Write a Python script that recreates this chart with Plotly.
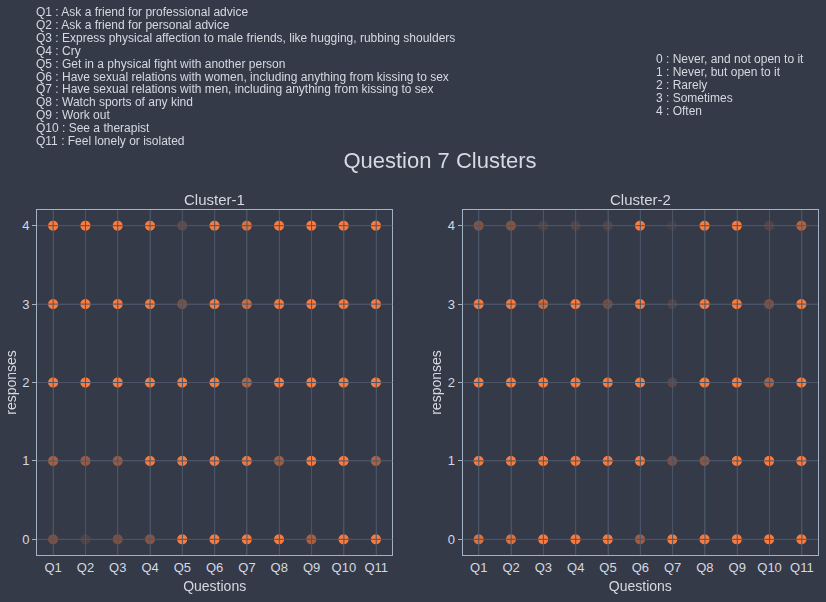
import plotly.graph_objects as go
from plotly.subplots import make_subplots

questions = ["Q1", "Q2", "Q3", "Q4", "Q5", "Q6", "Q7", "Q8", "Q9", "Q10", "Q11"]
responses = [0, 1, 2, 3, 4]

question_text = [
    "Q1 : Ask a friend for professional advice",
    "Q2 : Ask a friend for personal advice",
    "Q3 : Express physical affection to male friends, like hugging, rubbing shoulders",
    "Q4 : Cry",
    "Q5 : Get in a physical fight with another person",
    "Q6 : Have sexual relations with women, including anything from kissing to sex",
    "Q7 : Have sexual relations with men, including anything from kissing to sex",
    "Q8 : Watch sports of any kind",
    "Q9 : Work out",
    "Q10 : See a therapist",
    "Q11 : Feel lonely or isolated",
]
response_text = [
    "0 : Never, and not open to it",
    "1 : Never, but open to it",
    "2 : Rarely",
    "3 : Sometimes",
    "4 : Often",
]

# marker intensity (opacity) per response level (rows 0..4) and question
cluster1 = [
    [0.35, 0.14, 0.35, 0.42, 1.0, 1.0, 1.0, 1.0, 0.6, 1.0, 1.0],   # 0
    [0.6, 0.5, 0.5, 1.0, 1.0, 1.0, 0.95, 0.55, 1.0, 1.0, 0.62],    # 1
    [1.0, 1.0, 1.0, 1.0, 1.0, 1.0, 0.65, 1.0, 1.0, 1.0, 1.0],      # 2
    [1.0, 1.0, 1.0, 1.0, 0.35, 1.0, 0.8, 1.0, 1.0, 1.0, 1.0],      # 3
    [1.0, 1.0, 1.0, 1.0, 0.22, 1.0, 0.85, 1.0, 1.0, 1.0, 1.0],     # 4
]
cluster2 = [
    [0.85, 0.85, 1.0, 1.0, 1.0, 0.55, 1.0, 1.0, 1.0, 1.0, 1.0],    # 0
    [1.0, 1.0, 1.0, 1.0, 1.0, 1.0, 0.35, 0.45, 1.0, 1.0, 1.0],     # 1
    [1.0, 1.0, 1.0, 1.0, 1.0, 1.0, 0.2, 1.0, 1.0, 0.6, 1.0],       # 2
    [1.0, 1.0, 0.75, 1.0, 0.3, 1.0, 0.16, 1.0, 1.0, 0.35, 1.0],    # 3
    [0.4, 0.4, 0.13, 0.15, 0.15, 1.0, 0.08, 1.0, 1.0, 0.15, 0.65], # 4
]

BG = "#343a48"
GRID = "#4b5567"
AXIS = "#a3b1c4"
TEXT = "#d5d9e0"
ORANGE = "#f97c3e"
FONT = "Arial"

fig = make_subplots(rows=1, cols=2, subplot_titles=["Cluster-1", "Cluster-2"],
                    horizontal_spacing=0.09)

for col, data in enumerate([cluster1, cluster2], start=1):
    xs, ys, ops = [], [], []
    for r, row in zip(responses, data):
        for q, o in zip(questions, row):
            xs.append(q)
            ys.append(r)
            ops.append(o)
    fig.add_trace(go.Scattergl(x=xs, y=ys, mode="markers",
                               marker=dict(color=ORANGE, size=10, opacity=ops,
                                           line=dict(width=0)),
                               showlegend=False), row=1, col=col)

    # grid lines drawn above the markers
    xa = "x" if col == 1 else "x2"
    ya = "y" if col == 1 else "y2"
    for q in questions:
        fig.add_shape(type="line", xref=xa, yref=ya + " domain", x0=q, x1=q, y0=0, y1=1,
                      line=dict(color=GRID, width=1), layer="above")
    for r in responses:
        fig.add_shape(type="line", xref=xa + " domain", yref=ya, x0=0, x1=1, y0=r, y1=r,
                      line=dict(color=GRID, width=1), layer="above")

for col in (1, 2):
    fig.update_xaxes(title_text="Questions", categoryorder="array", categoryarray=questions,
                     range=[-0.5, 10.5], showgrid=True, gridcolor=GRID, gridwidth=1,
                     showline=True, linecolor=AXIS, linewidth=1, mirror=True,
                     ticks="", zeroline=False, row=1, col=col, automargin=False,
                     tickfont=dict(size=13), title_font=dict(size=14), title_standoff=7)
    fig.update_yaxes(title_text="responses", range=[-0.2, 4.2], tickvals=responses,
                     showgrid=True, gridcolor=GRID, gridwidth=1,
                     showline=True, linecolor=AXIS, linewidth=1, mirror=True,
                     ticks="outside", ticklen=4, tickcolor=AXIS, zeroline=False,
                     row=1, col=col, automargin=False,
                     tickfont=dict(size=13), title_font=dict(size=14),
                     title_standoff=2)

for a in fig.layout.annotations:
    a.font = dict(size=15, color=TEXT, family=FONT)

# explanatory text annotations
PL, PR, PT, PB, W, H = 37, 8, 210, 47, 826, 602
pw = W - PL - PR
ph = H - PT - PB

def px_to_paper(px, py):
    return (px - PL) / pw, (H - PB - py) / ph

for i, t in enumerate(question_text):
    x, y = px_to_paper(34, 12 + 12.9 * i)
    fig.add_annotation(text=t, x=x, y=y, xref="paper", yref="paper",
                       xanchor="left", yanchor="middle", showarrow=False,
                       font=dict(size=12, color=TEXT, family=FONT))
for i, t in enumerate(response_text):
    x, y = px_to_paper(654, 59 + 13 * i)
    fig.add_annotation(text=t, x=x, y=y, xref="paper", yref="paper",
                       xanchor="left", yanchor="middle", showarrow=False,
                       font=dict(size=12, color=TEXT, family=FONT))

fig.update_layout(
    width=W, height=H,
    margin=dict(l=PL, r=PR, t=PT, b=PB),
    paper_bgcolor=BG, plot_bgcolor=BG,
    font=dict(family=FONT, color=TEXT, size=12),
    title=dict(text="Question 7 Clusters", x=440 / W, xanchor="center",
               y=1 - 160 / H, yanchor="middle", yref="container",
               font=dict(size=22, color=TEXT, family=FONT)),
)

fig.write_html("out.html")
